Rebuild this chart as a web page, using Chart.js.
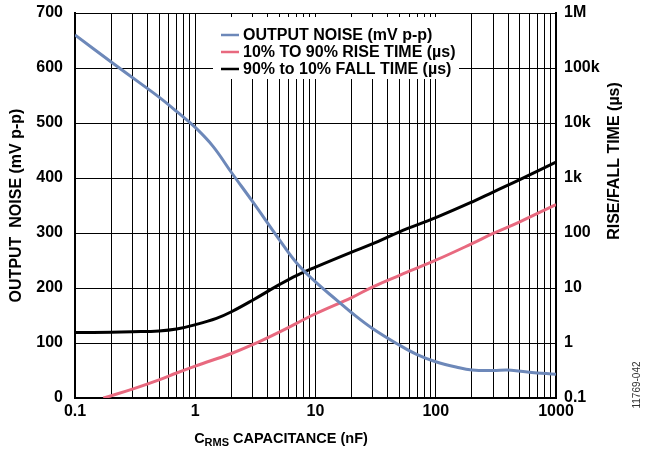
<!DOCTYPE html>
<html>
<head>
<meta charset="utf-8">
<script src="https://cdn.jsdelivr.net/npm/chart.js@4.4.1/dist/chart.umd.min.js"></script>
<style>
  html, body { margin: 0; padding: 0; background: #fff; }
  #wrap { width: 645px; height: 453px; }
</style>
</head>
<body>
<div id="wrap"><canvas id="chart" width="645" height="453"></canvas></div>
<script>
// output noise, left axis (mV p-p)
const noiseCap = [0.1, 0.2, 0.35, 0.5, 0.7, 1, 1.4, 2, 3, 5, 7, 10, 15, 20, 30, 50, 70, 100, 150, 200, 300, 400, 600, 1000];
const noiseMv = [660, 611, 572, 547, 521, 492, 458, 410, 357, 288, 245, 211, 178, 155, 126, 96, 79, 66, 56, 51, 50, 51, 47, 43];

// 10% to 90% rise time, right axis (us)
const riseCap = [0.172, 0.2, 0.3, 0.5, 0.7, 1, 2, 3, 5, 10, 20, 30, 50, 100, 200, 300, 500, 1000];
const riseUs = [0.1, 0.11, 0.145, 0.214, 0.285, 0.38, 0.645, 0.93, 1.58, 3.4, 6.7, 10.5, 17, 32, 64, 98, 160, 330];

// 90% to 10% fall time, right axis (us)
const fallCap = [0.1, 0.2, 0.3, 0.5, 0.7, 1, 1.5, 2, 3, 5, 7, 10, 20, 30, 50, 100, 200, 300, 500, 1000];
const fallUs = [1.55, 1.57, 1.6, 1.66, 1.8, 2.15, 2.8, 3.7, 6.0, 11.5, 17, 24, 45, 64, 105, 190, 366, 555, 935, 1950];

const xDecades = [0.1, 1, 10, 100, 1000];
const xDecadeLabels = ["0.1", "1", "10", "100", "1000"];
const rightTicks = [0.1, 1, 10, 100, 1000, 10000, 100000, 1000000];
const rightTickLabels = ["0.1", "1", "10", "100", "1k", "10k", "100k", "1M"];

const FONT = '"Liberation Sans", Arial, Helvetica, sans-serif';
const tickFont = { family: FONT, size: 16, weight: "bold" };

const toPoints = (xs, ys) => xs.map((x, i) => ({ x: x, y: ys[i] }));

// gridlines at 1..9 x each decade
const minorTicks = () => {
  const out = [];
  xDecades.forEach((d, i) => {
    if (i === xDecades.length - 1) {
      out.push(d);
      return;
    }
    for (let m = 1; m <= 9; m++) out.push(Number((m * d).toPrecision(3)));
  });
  return out;
};

// vertical axes: fixed width, no extra top/bottom room for the labels
const fixVertical = (w) => (scale) => {
  scale.width = w;
  scale.paddingTop = 0;
  scale.paddingBottom = 0;
};

// titles, legend box and figure id
const annotations = {
  id: "annotations",
  afterDraw(chart) {
    const ctx = chart.ctx;
    const area = chart.chartArea;
    ctx.save();

    // legend (white box over the grid)
    ctx.fillStyle = "#fff";
    ctx.fillRect(213, 17, 246, 62);
    ctx.font = "bold 16px " + FONT;
    ctx.textBaseline = "middle";
    chart.data.datasets.forEach((ds, i) => {
      const y = 35 + i * 17;
      ctx.strokeStyle = ds.borderColor;
      ctx.lineWidth = 2.5;
      ctx.beginPath();
      ctx.moveTo(221, y);
      ctx.lineTo(239, y);
      ctx.stroke();
      ctx.fillStyle = "#000";
      ctx.textAlign = "left";
      ctx.fillText(ds.label, 243, y + 1);
    });

    // left axis title
    ctx.fillStyle = "#000";
    ctx.textAlign = "center";
    ctx.font = "bold 16px " + FONT;
    ctx.save();
    ctx.translate(17, (area.top + area.bottom) / 2);
    ctx.rotate(-Math.PI / 2);
    ctx.fillText("OUTPUT  NOISE (mV p-p)", 0, 0);
    ctx.restore();

    // right axis title
    ctx.save();
    ctx.translate(615, 161);
    ctx.rotate(-Math.PI / 2);
    ctx.fillText("RISE/FALL TIME (\u00b5s)", 0, 0);
    ctx.restore();

    // x axis title with subscript
    const big = "bold 14.5px " + FONT;
    const small = "bold 11px " + FONT;
    const parts = [["C", big, 0], ["RMS", small, 4], [" CAPACITANCE (nF)", big, 0]];
    let total = 0;
    parts.forEach((p) => { ctx.font = p[1]; total += ctx.measureText(p[0]).width; });
    let x = 281 - total / 2;
    ctx.textAlign = "left";
    parts.forEach((p) => {
      ctx.font = p[1];
      ctx.fillText(p[0], x, 439 + p[2]);
      x += ctx.measureText(p[0]).width;
    });

    // figure number
    ctx.save();
    ctx.translate(637, 385);
    ctx.rotate(-Math.PI / 2);
    ctx.textAlign = "center";
    ctx.font = "10px " + FONT;
    ctx.fillStyle = "#333";
    ctx.fillText("11769-042", 0, 0);
    ctx.restore();

    ctx.restore();
  }
};

new Chart(document.getElementById("chart"), {
  type: "line",
  data: {
    datasets: [
      {
        label: "OUTPUT NOISE (mV p-p)",
        data: toPoints(noiseCap, noiseMv),
        borderColor: "#6d88b9",
        yAxisID: "y",
      },
      {
        label: "10% TO 90% RISE TIME (\u00b5s)",
        data: toPoints(riseCap, riseUs),
        borderColor: "#e8697f",
        yAxisID: "y1",
      },
      {
        label: "90% to 10% FALL TIME (\u00b5s)",
        data: toPoints(fallCap, fallUs),
        borderColor: "#000000",
        yAxisID: "y1",
      },
    ],
  },
  options: {
    responsive: false,
    animation: false,
    devicePixelRatio: 1,
    layout: { padding: { top: 13, left: 0, right: 0, bottom: 0 } },
    elements: {
      point: { radius: 0 },
      line: { borderWidth: 3, tension: 0.4, fill: false },
    },
    plugins: {
      legend: { display: false },
      tooltip: { enabled: false },
    },
    scales: {
      x: {
        type: "logarithmic",
        min: 0.1,
        max: 1000,
        afterBuildTicks: (scale) => {
          scale.ticks = minorTicks().map((v) => ({ value: v }));
        },
        afterFit: (scale) => { scale.height = 55; },
        ticks: {
          autoSkip: false,
          maxRotation: 0,
          padding: 4,
          color: "#000",
          font: tickFont,
          callback: (v) => {
            const i = xDecades.findIndex((d) => Math.abs(d - v) < 1e-9);
            return i >= 0 ? xDecadeLabels[i] : "";
          },
        },
        grid: { color: "#000", lineWidth: 1, drawTicks: false },
        border: { color: "#000", width: 2 },
      },
      y: {
        position: "left",
        min: 0,
        max: 700,
        afterFit: fixVertical(75),
        ticks: { stepSize: 100, padding: 12, color: "#000", font: tickFont },
        grid: { color: "#000", lineWidth: 1, drawTicks: false },
        border: { color: "#000", width: 2 },
      },
      y1: {
        type: "logarithmic",
        position: "right",
        min: 0.1,
        max: 1000000,
        afterBuildTicks: (scale) => {
          scale.ticks = rightTicks.map((v) => ({ value: v }));
        },
        afterFit: fixVertical(89),
        ticks: {
          padding: 8,
          color: "#000",
          font: tickFont,
          callback: (v) => {
            const i = rightTicks.findIndex((d) => Math.abs(d - v) / d < 1e-6);
            return i >= 0 ? rightTickLabels[i] : "";
          },
        },
        grid: { display: false, drawTicks: false },
        border: { color: "#000", width: 2 },
      },
    },
  },
  plugins: [annotations],
});
</script>
</body>
</html>
